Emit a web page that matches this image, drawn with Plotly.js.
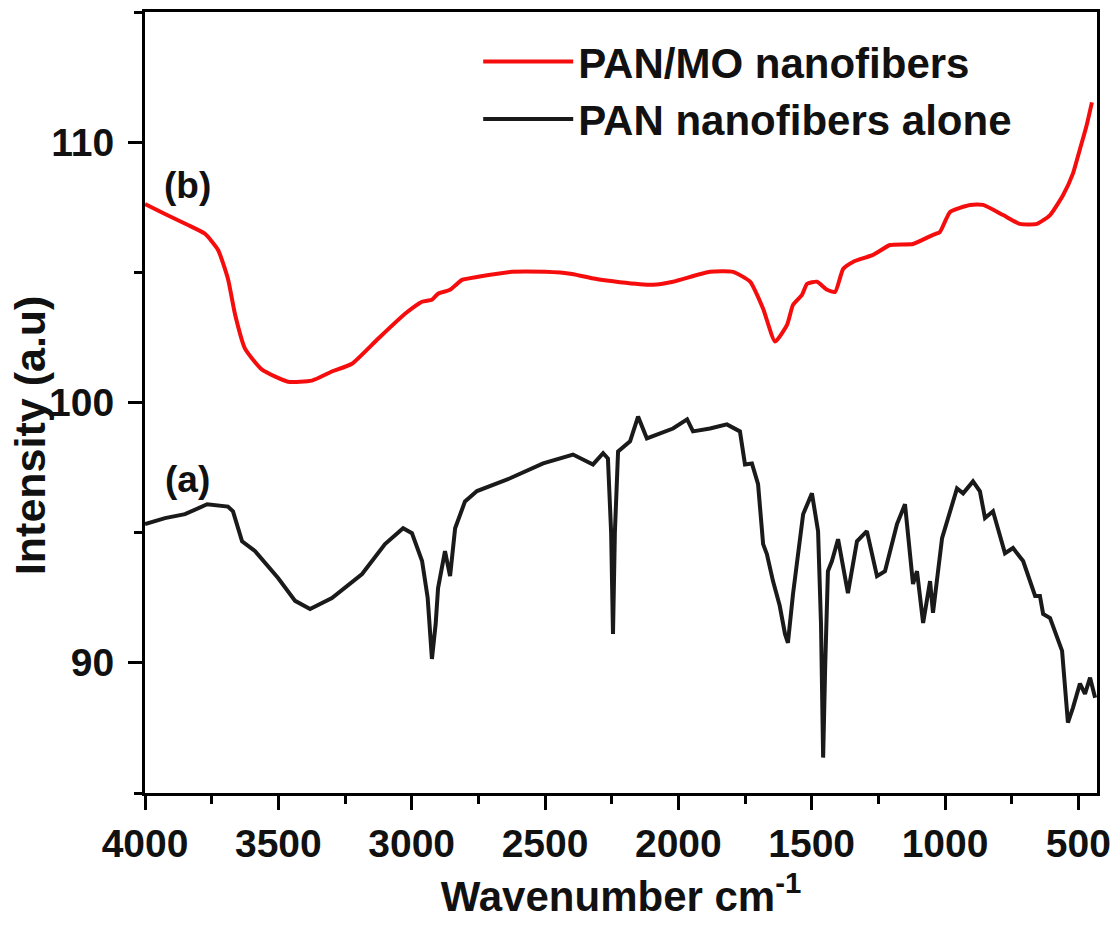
<!DOCTYPE html>
<html>
<head>
<meta charset="utf-8">
<script src="https://cdn.plot.ly/plotly-3.0.1.min.js"></script>
<style>html,body{margin:0;padding:0;background:#fff;}#chart{width:1119px;height:926px;}</style>
</head>
<body>
<div id="chart"></div>
<script>
// PAN nanofibers alone (a)
const panWavenumber = [4000,3925,3850,3767,3689,3670,3636,3587,3501,3437,3381,3299,3186,3100,3032,2999,2961,2940,2924,2910,2901,2875,2856,2837,2800,2755,2631,2507,2395,2320,2282,2264,2252,2245,2238,2226,2181,2151,2118,2069,2020,1967,1945,1881,1818,1769,1750,1724,1701,1682,1668,1645,1620,1600,1589,1570,1532,1499,1476,1465,1457,1449,1439,1424,1401,1364,1330,1293,1255,1225,1180,1150,1120,1105,1082,1056,1045,1011,955,932,895,869,850,820,775,745,707,662,644,632,606,561,539,520,494,475,456,437];
const panIntensity = [95.33,95.56,95.71,96.09,96.0,95.82,94.67,94.29,93.26,92.38,92.07,92.49,93.41,94.56,95.17,94.98,93.91,92.5,90.15,91.5,92.87,94.29,93.33,95.17,96.2,96.6,97.09,97.66,98.0,97.62,98.05,97.85,95.0,91.11,95.0,98.12,98.51,99.46,98.62,98.81,99.0,99.35,98.89,99.0,99.16,98.89,97.62,97.66,96.86,94.56,94.18,93.14,92.2,91.11,90.77,92.64,95.71,96.51,95.06,91.5,86.36,90.0,93.52,93.91,94.75,92.68,94.67,95.06,93.33,93.52,95.33,96.09,93.03,93.52,91.53,93.14,91.92,94.79,96.7,96.51,96.97,96.59,95.56,95.82,94.21,94.41,93.91,92.57,92.57,91.88,91.72,90.46,87.70,88.28,89.2,88.81,89.43,88.66];

// PAN/MO nanofibers (b)
const panMoWavenumber = [4000,3925,3839,3775,3726,3689,3662,3625,3561,3464,3374,3299,3224,3126,3025,2961,2924,2901,2856,2811,2751,2624,2500,2399,2312,2219,2095,2020,1881,1795,1731,1682,1637,1592,1570,1536,1517,1480,1442,1412,1382,1345,1270,1206,1120,1045,1019,981,906,857,782,719,655,606,557,520,494,470,449];
const panMoIntensity = [107.62,107.24,106.82,106.48,105.86,104.75,103.37,102.07,101.26,100.8,100.84,101.19,101.49,102.45,103.41,103.87,103.95,104.18,104.33,104.71,104.83,105.02,105.02,104.94,104.75,104.62,104.52,104.64,105.02,105.02,104.64,103.6,102.34,102.99,103.75,104.14,104.56,104.64,104.33,104.25,105.13,105.4,105.67,106.05,106.09,106.44,106.55,107.32,107.59,107.59,107.2,106.86,106.86,107.2,107.97,108.8,109.73,110.6,111.53];

const seriesNames = ["PAN/MO nanofibers", "PAN nanofibers alone"];
const curveLabels = ["(b)", "(a)"];
const labelPos = [[3839, 108.35], [3842, 97.05]];
const xTickVals = [4000,3500,3000,2500,2000,1500,1000,500];
const yTickVals = [90,100,110];

const F = "'Liberation Sans', Arial, sans-serif";

const traces = [
  {x: panMoWavenumber, y: panMoIntensity, name: seriesNames[0], type: 'scatter', mode: 'lines',
   line: {color: '#f50d0d', width: 4, shape: 'spline', smoothing: 0.5}},
  {x: panWavenumber, y: panIntensity, name: seriesNames[1], type: 'scatter', mode: 'lines',
   line: {color: '#1a1a1a', width: 4}}
];

const axisCommon = {
  showline: true, linecolor: '#000', linewidth: 3, mirror: true,
  ticks: 'outside', tickcolor: '#000', tickwidth: 3, ticklen: 14,
  showgrid: false, zeroline: false,
  tickfont: {family: F, size: 39, color: '#111', weight: 'bold'}
};

const layout = {
  width: 1119, height: 926,
  margin: {l: 145, r: 22, t: 12, b: 133},
  paper_bgcolor: '#fff', plot_bgcolor: '#fff',
  showlegend: true,
  legend: {x: 0.35, y: 0.98, xanchor: 'left', yanchor: 'top', bgcolor: 'rgba(0,0,0,0)',
           font: {family: F, size: 42, color: '#111', weight: 'bold'}, itemwidth: 90, tracegroupgap: 0},
  xaxis: Object.assign({}, axisCommon, {
    range: [4000, 430], tickvals: xTickVals,
    minor: {dtick: 250, tick0: 0, ticks: 'outside', ticklen: 8, tickwidth: 3, tickcolor: '#000'},
    title: {text: 'Wavenumber cm<sup>-1</sup>', font: {family: F, size: 42, color: '#111', weight: 'bold'}, standoff: 18}
  }),
  yaxis: Object.assign({}, axisCommon, {
    range: [85, 115], tickvals: yTickVals, ticklabelstandoff: 6,
    minor: {dtick: 5, tick0: 0, ticks: 'outside', ticklen: 8, tickwidth: 3, tickcolor: '#000'}
  }),
  annotations: curveLabels.map((t, i) => ({
    x: labelPos[i][0], y: labelPos[i][1], xref: 'x', yref: 'y', text: t, showarrow: false,
    font: {family: F, size: 37, color: '#111', weight: 'bold'}
  })).concat([{
    xref: 'paper', yref: 'paper', x: -0.121, y: 0.458, xanchor: 'center', yanchor: 'middle',
    text: 'Intensity (a.u)', textangle: -90, showarrow: false,
    font: {family: F, size: 43, color: '#111', weight: 'bold'}
  }])
};

Plotly.newPlot('chart', traces, layout, {displayModeBar: false, staticPlot: true});
</script>
</body>
</html>
